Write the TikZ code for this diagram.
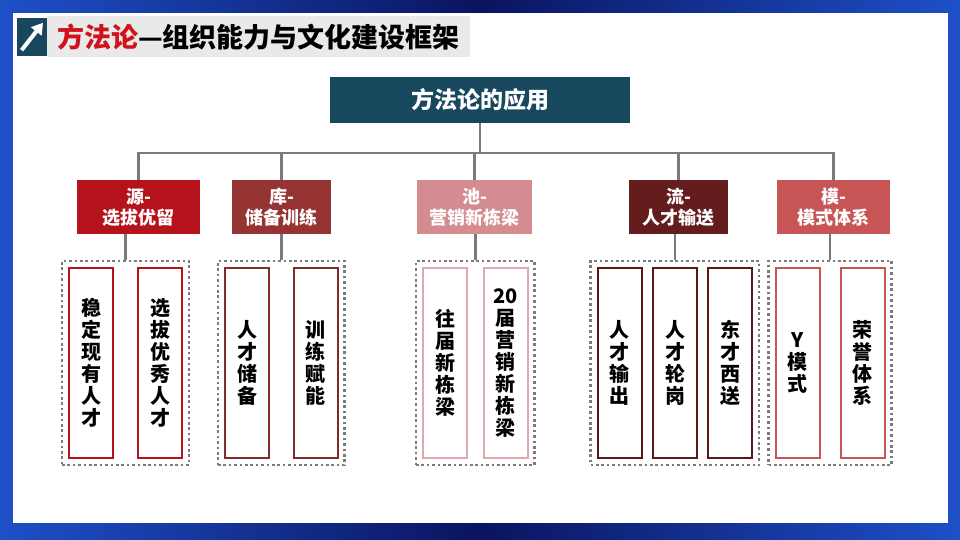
\documentclass[tikz,border=0pt]{standalone}
\usepackage{fontspec}
\setmainfont{Noto Sans CJK SC}[BoldFont={Noto Sans CJK SC Black}]
\usetikzlibrary{positioning, arrows.meta, fit, calc}

\definecolor{bgnavy}{HTML}{0A1460}
\definecolor{bgblue}{HTML}{1E50C8}
\definecolor{headteal}{HTML}{17485E}
\definecolor{titlegray}{HTML}{E9E9E9}
\definecolor{titlered}{HTML}{D0121B}
\definecolor{srcred}{HTML}{B5121B}
\definecolor{libred}{HTML}{963434}
\definecolor{poolpink}{HTML}{D58C91}
\definecolor{flowred}{HTML}{641C1C}
\definecolor{modered}{HTML}{C85555}
\definecolor{linkgray}{HTML}{7A7A7A}

\begin{document}
\begin{tikzpicture}[
      x=1pt, y=-1pt,
      cat/.style={rectangle, fill=#1, text=white, minimum height=54pt, inner sep=0pt, outer sep=0pt, align=center,
        font=\fontsize{18}{21}\selectfont\bfseries},
      item/.style={rectangle, draw=#1, line width=2pt, fill=white, minimum width=44pt, minimum height=190pt,
        inner sep=0pt, align=center, font=\fontsize{20}{22}\selectfont\bfseries},
      group/.style={draw=linkgray, line width=2.6pt, dash pattern=on 2.6pt off 2.8pt, inner sep=6pt},
      link/.style={draw=linkgray, line width=2.5pt}
    ]
      % Background
      \shade[left color=bgblue, right color=bgblue, middle color=bgnavy] (0,0) rectangle (960,540);
      \fill[white] (13,13) rectangle (948,523);

      % Title
      \node[fill=titlegray, anchor=west, minimum height=41pt, inner xsep=10pt, inner ysep=0pt,
        font=\fontsize{27}{30}\selectfont\bfseries] (title) at (47,37)
        {{\color{titlered}方法论}—组织能力与文化建设框架};
      \node[fill=headteal, anchor=east, minimum width=30pt, minimum height=38pt, inner sep=0pt] (icon) at (47,37) {};
      \draw[white, line width=4pt, -{Triangle[length=11pt, width=13pt]}]
        ($(icon.south west)+(5,-6)$) -- ($(icon.north east)+(-4,5)$);

      % Nodes
      \node[fill=headteal, text=white, minimum width=300pt, minimum height=46pt, inner sep=0pt,
        font=\fontsize{23}{26}\selectfont\bfseries] (app) at (480,100) {方法论的应用};

      \node[cat=srcred, minimum width=123pt] (src) at (138.5,207) {源-\\选拔优留};
      \node[cat=libred, minimum width=99pt] (lib) at (281.5,207) {库-\\储备训练};
      \node[cat=poolpink, minimum width=115pt] (pool) at (474.5,207) {池-\\营销新栋梁};
      \node[cat=flowred, minimum width=99pt] (flow) at (678.5,207) {流-\\人才输送};
      \node[cat=modered, minimum width=113pt] (mode) at (833.5,207) {模-\\模式体系};

      \node[item=srcred] (src1) at (91,363) {稳\\定\\现\\有\\人\\才};
      \node[item=srcred] (src2) at (160,363) {选\\拔\\优\\秀\\人\\才};
      \node[item=libred!85!black] (lib1) at (247,363) {人\\才\\储\\备};
      \node[item=libred!85!black] (lib2) at (315.5,363) {训\\练\\赋\\能};
      \node[item=poolpink!75] (pool1) at (445,363) {往\\届\\新\\栋\\梁};
      \node[item=poolpink!75] (pool2) at (505.5,363) {20\\届\\营\\销\\新\\栋\\梁};
      \node[item=flowred!90!black] (flow1) at (619.5,363) {人\\才\\输\\出};
      \node[item=flowred!90!black] (flow2) at (675,363) {人\\才\\轮\\岗};
      \node[item=flowred!90!black] (flow3) at (730,363) {东\\才\\西\\送};
      \node[item=modered] (mode1) at (797.5,363) {Y\\模\\式};
      \node[item=modered] (mode2) at (862.5,363) {荣\\誉\\体\\系};

      % Dotted frames
      \node[group, fit=(src1)(src2)] (gsrc) {};
      \node[group, fit=(lib1)(lib2)] (glib) {};
      \node[group, fit=(pool1)(pool2)] (gpool) {};
      \node[group, fit=(flow1)(flow3)] (gflow) {};
      \node[group, fit=(mode1)(mode2)] (gmode) {};

      % Connectors
      \coordinate (bus) at ($(app.south)+(0,30)$);
      \draw[link] (app.south) -- (bus);
      \foreach \c in {src, lib, pool, flow, mode}
        \draw[link] (bus) -| (\c.north);
      \foreach \c/\g in {src/gsrc, lib/glib, pool/gpool, flow/gflow, mode/gmode}
        \draw[link] (\c.south -| \g.north) -- (\g.north);

    \end{tikzpicture}
\end{document}
